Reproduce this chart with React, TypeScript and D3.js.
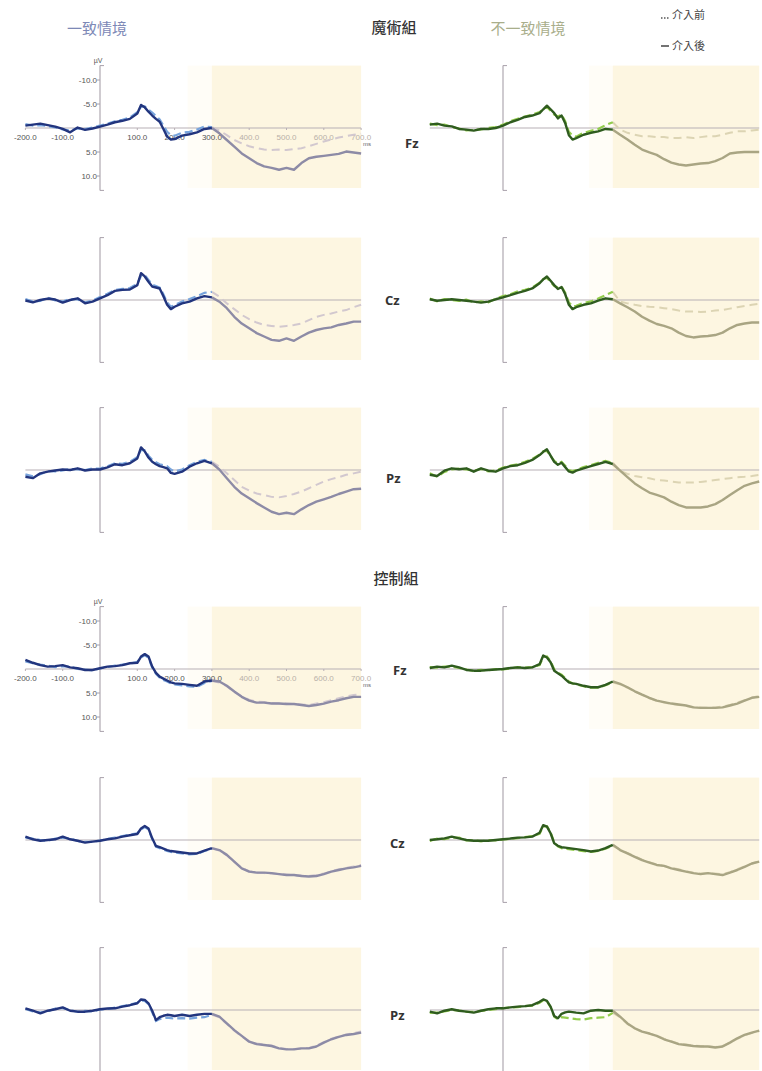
import React from "react";
import * as d3 from "d3";

// ---------- DATA ----------
const TIMES = [-200,-180,-160,-140,-120,-100,-80,-60,-40,-20,0,20,40,60,80,100,110,120,130,140,150,160,170,180,190,200,220,240,260,280,300,320,340,360,380,400,420,440,460,480,500,520,540,560,580,600,620,640,660,680,700];

const X_TICKS = [-200, -100, 100, 200, 300, 400, 500, 600, 700];
const Y_TICKS = [-10, -5, 5, 10];

// 魔術組 一致情境
const MAGIC_CONG_FZ_POST = [-0.5,-0.7,-0.9,-0.6,-0.3,0.2,0.9,-0.1,0.4,0.1,-0.3,-0.7,-1.2,-1.5,-1.9,-3.0,-4.8,-4.3,-3.4,-2.6,-1.9,-1.3,0.2,1.8,2.4,2.3,1.6,1.3,0.9,0.2,0.0,1.1,2.5,3.9,5.3,6.3,7.3,8.0,8.3,8.7,8.3,8.7,7.3,6.3,6.0,5.8,5.6,5.4,4.9,5.1,5.3];
const MAGIC_CONG_FZ_PRE = [-0.8,-0.5,-0.6,-0.4,-0.1,0.3,0.5,0.1,0.2,-0.1,-0.5,-0.9,-1.4,-1.7,-2.2,-3.3,-4.4,-4.5,-3.8,-3.2,-2.5,-1.8,-0.5,0.8,1.5,1.6,1.0,0.8,0.3,-0.3,-0.2,0.5,1.5,2.5,3.2,3.8,4.2,4.5,4.6,4.5,4.6,4.4,4.2,3.8,3.3,2.8,2.4,2.0,1.7,1.4,1.2];
const MAGIC_CONG_CZ_POST = [0.1,0.5,0,-0.3,-0.1,0.55,0,-0.35,0.7,0.35,-0.35,-1.0,-1.9,-2.1,-2.2,-3.1,-5.6,-4.9,-3.8,-2.8,-2.6,-2.4,-0.8,1.0,1.9,1.4,0.7,0.35,-0.35,-0.8,-0.55,0.35,1.7,3.5,4.9,5.9,6.9,7.6,8.3,8.5,8.0,8.5,7.6,6.8,6.25,5.9,5.7,5.2,4.9,4.5,4.5];
const MAGIC_CONG_CZ_PRE = [-0.2,0.3,0.2,-0.5,0.1,0.3,-0.2,-0.1,0.5,0.1,-0.6,-1.3,-2.1,-2.3,-2.5,-3.4,-5.0,-5.2,-4.2,-3.2,-2.9,-2.6,-1.2,0.5,1.4,1.1,0.3,-0.2,-0.8,-1.5,-1.7,-0.7,0.7,1.9,3.1,4.0,4.7,5.2,5.4,5.6,5.4,5.2,4.9,4.2,3.5,3.1,2.8,2.4,2.1,1.5,1.0];
const MAGIC_CONG_PZ_POST = [1.4,1.7,0.7,0.35,0.1,-0.1,0,-0.35,0.1,-0.1,-0.1,-0.55,-1.2,-1.0,-1.4,-2.4,-4.7,-3.9,-2.6,-1.7,-1.2,-0.8,-0.6,-0.35,0.6,0.8,0.35,-0.7,-1.4,-1.9,-1.4,-0.1,1.7,3.5,4.9,5.9,6.9,7.8,8.7,9.2,8.9,9.2,8.2,7.3,6.6,6.1,5.6,5.0,4.5,4.0,3.9];
const MAGIC_CONG_PZ_PRE = [0.9,1.3,0.9,0.2,0.3,0.1,-0.2,-0.1,0.0,-0.3,-0.3,-0.8,-1.4,-1.3,-1.7,-2.7,-4.2,-4.1,-3.0,-2.1,-1.6,-1.2,-1.0,-0.8,-0.1,0.3,-0.1,-1.0,-1.7,-2.1,-1.7,-0.7,0.7,2.1,3.5,4.3,4.9,5.2,5.6,5.7,5.4,5.0,4.5,3.8,3.1,2.4,1.9,1.5,1.0,0.7,0.35];

// 魔術組 不一致情境
const MAGIC_INC_FZ_POST = [-0.7,-0.9,-0.5,-0.35,0.2,0.35,0.55,0.2,0.2,0,-0.5,-1.2,-1.7,-2.3,-2.6,-3.1,-3.9,-4.65,-3.9,-3.1,-2.0,-2.6,-1.0,1.5,2.4,2.1,1.4,1.0,0.7,0.2,0.35,1.4,2.4,3.5,4.5,5.1,5.6,6.5,7.2,7.6,7.8,7.6,7.4,7.3,6.9,6.25,5.3,5.1,5.0,5.0,5.0];
const MAGIC_INC_FZ_PRE = [-0.9,-0.6,-0.7,-0.2,0.1,0.5,0.4,0.3,0.0,-0.2,-0.7,-1.4,-1.9,-2.4,-2.8,-3.3,-4.0,-4.4,-3.6,-2.8,-2.4,-2.8,-1.4,0.8,1.6,1.8,1.0,0.6,0.2,-0.6,-1.2,0.35,1.0,1.4,1.7,1.7,1.9,1.9,2.1,2.1,1.9,2.1,1.9,1.7,1.7,1.4,1.0,0.7,0.7,0.5,0.35];
const MAGIC_INC_CZ_POST = [-0.15,0.15,0,-0.15,0,0.15,0.35,0.55,0.35,-0.15,-0.55,-1.0,-1.5,-1.9,-2.4,-3.5,-4.3,-4.9,-4.0,-3.1,-2.3,-2.7,-1.2,1.0,1.9,1.5,1.0,0.7,0.15,-0.35,-0.15,0.7,1.5,2.4,3.5,4.3,5.0,5.4,5.9,6.8,7.5,7.8,7.6,7.5,7.3,6.8,5.9,5.2,4.9,4.7,4.7];
const MAGIC_INC_CZ_PRE = [-0.3,0.3,-0.2,0.0,0.2,-0.1,0.5,0.3,0.5,-0.3,-0.8,-1.2,-1.8,-2.1,-2.6,-3.6,-4.4,-4.6,-3.8,-2.9,-2.6,-2.8,-1.5,0.5,1.3,1.2,0.6,0.3,-0.3,-1.0,-1.7,0.35,0.7,1.0,1.25,1.4,1.5,1.7,1.9,2.2,2.4,2.4,2.5,2.4,2.2,2.1,1.8,1.5,1.25,1.0,0.8];
const MAGIC_INC_PZ_POST = [1.0,1.25,0.15,-0.35,-0.15,-0.35,0.35,-0.35,0.15,0.35,-0.35,-0.8,-1.0,-1.5,-2.1,-3.1,-3.8,-4.3,-3.0,-1.7,-1.1,-1.5,-0.6,0.3,0.55,0.15,-0.35,-0.8,-1.25,-1.7,-1.25,0.15,1.5,2.8,3.8,4.7,5.2,5.7,6.6,7.3,7.8,7.8,7.8,7.6,7.1,6.25,5.2,4.2,3.3,2.8,2.4];
const MAGIC_INC_PZ_PRE = [0.7,1.4,0.4,-0.1,-0.3,-0.1,0.1,-0.2,0.3,0.1,-0.5,-0.9,-1.2,-1.7,-2.3,-3.2,-3.9,-4.0,-2.9,-1.9,-1.4,-1.7,-0.9,0.0,0.2,0.0,-0.6,-1.0,-1.5,-1.9,-1.5,0.15,0.8,1.25,1.5,1.7,2.1,2.2,2.4,2.6,2.6,2.6,2.5,2.3,2.1,1.9,1.7,1.5,1.4,1.25,1.0];

// 控制組 一致情境
const CTRL_CONG_FZ_POST = [-1.9,-1.3,-0.8,-0.5,-0.6,-0.8,-0.35,-0.15,0.2,0.2,-0.15,-0.5,-0.6,-0.8,-1.2,-1.3,-2.6,-3.1,-2.6,-0.5,0.8,1.6,2.0,2.4,2.8,3.0,3.1,3.3,3.5,2.6,2.4,2.6,3.5,4.7,5.8,6.6,7.0,7.0,7.2,7.2,7.3,7.3,7.5,7.7,7.5,7.2,6.8,6.5,6.1,5.8,5.8];
const CTRL_CONG_FZ_PRE = [-1.6,-1.2,-0.9,-0.7,-0.4,-0.6,-0.5,0.0,0.1,0.3,-0.1,-0.4,-0.7,-0.9,-1.1,-1.5,-2.4,-2.9,-2.3,-0.3,1.0,1.8,2.3,2.6,3.0,3.2,3.4,3.6,3.7,2.9,2.5,2.8,3.6,4.8,5.7,6.4,6.8,6.9,7.1,7.2,7.2,7.3,7.4,7.5,7.2,6.9,6.5,6.1,5.7,5.4,5.3];
const CTRL_CONG_CZ_POST = [-0.7,-0.15,0.15,0,-0.15,-0.7,-0.15,0.15,0.55,0.35,0.15,-0.15,-0.35,-0.7,-1.0,-1.25,-2.4,-2.9,-2.4,-0.35,1.25,1.5,1.8,2.1,2.3,2.4,2.6,2.8,2.8,2.2,1.7,2.1,3.1,4.5,5.9,6.6,6.8,6.8,6.9,7.1,7.3,7.3,7.5,7.6,7.5,7.1,6.6,6.25,5.9,5.7,5.4];
const CTRL_CONG_CZ_PRE = [-0.5,-0.3,0.0,0.2,-0.3,-0.5,-0.3,0.2,0.4,0.4,0.1,-0.2,-0.5,-0.8,-1.1,-1.4,-2.2,-2.7,-2.2,-0.2,1.4,1.7,2.0,2.3,2.5,2.6,2.8,3.0,2.9,2.3,1.8,2.2,3.2,4.6,5.8,6.5,6.8,6.9,7.0,7.1,7.2,7.4,7.4,7.5,7.3,7.0,6.5,6.1,5.8,5.5,5.2];
const CTRL_CONG_PZ_POST = [-0.35,0.15,0.7,0.15,-0.15,-0.55,0.15,0.35,0.35,0.15,-0.15,-0.3,-0.35,-0.7,-1.0,-1.4,-2.2,-2.1,-1.4,0.15,2.1,1.5,1.2,1.0,1.1,1.25,1.0,1.25,1.0,0.8,0.8,1.4,2.8,4.2,5.4,6.6,7.1,7.3,7.5,8.0,8.2,8.2,8.0,8.0,7.6,6.8,6.1,5.6,5.2,5.0,4.7];
const CTRL_CONG_PZ_PRE = [-0.2,0.3,0.5,0.3,-0.3,-0.4,0.0,0.4,0.2,0.3,-0.1,-0.2,-0.5,-0.8,-1.1,-1.5,-2.0,-1.9,-1.2,0.5,2.3,1.9,1.7,1.6,1.7,1.8,1.7,1.8,1.6,1.5,1.0,1.5,2.9,4.3,5.5,6.5,7.0,7.2,7.4,7.9,8.1,8.1,8.0,7.9,7.4,6.7,6.0,5.5,5.1,4.8,4.5];

// 控制組 不一致情境
const CTRL_INC_FZ_POST = [-0.2,-0.5,-0.35,-0.7,-0.35,0.2,0.35,0.35,0.2,0.1,0,-0.2,-0.35,-0.2,-0.35,-1.0,-2.8,-2.4,-1.4,0.35,0.9,1.4,2.1,2.8,3.0,3.1,3.5,3.8,3.8,3.3,2.6,3.1,3.8,4.65,5.35,6.0,6.6,6.9,7.2,7.4,7.6,8.0,8.1,8.1,8.1,8.0,7.6,7.2,6.6,6.0,5.8];
const CTRL_INC_FZ_PRE = [-0.4,-0.3,-0.5,-0.5,-0.2,0.1,0.4,0.2,0.3,0.0,0.1,-0.1,-0.4,-0.3,-0.4,-0.8,-2.5,-2.6,-1.7,0.1,0.8,1.2,1.9,2.6,3.0,3.2,3.6,3.9,3.9,3.4,2.8,3.2,3.9,4.7,5.4,6.1,6.6,7.0,7.3,7.5,7.7,7.9,8.0,8.1,8.0,7.8,7.5,7.0,6.5,6.0,5.6];
const CTRL_INC_CZ_POST = [0,-0.15,-0.35,-0.7,-0.35,0,0.15,0.15,0.15,0,-0.15,-0.3,-0.5,-0.55,-0.7,-1.5,-3.1,-2.8,-1.4,0.7,1.2,1.5,1.6,1.7,1.8,1.9,2.1,2.4,2.2,1.7,1.0,2.1,2.8,3.5,4.2,4.7,5.2,5.4,5.9,6.25,6.6,6.9,7.1,6.9,7.1,7.3,6.8,6.25,5.6,4.9,4.5];
const CTRL_INC_CZ_PRE = [0.2,-0.3,-0.2,-0.5,-0.5,0.1,0.0,0.3,0.0,0.1,-0.1,-0.2,-0.4,-0.6,-0.8,-1.3,-2.8,-2.9,-1.6,0.5,1.3,1.7,1.8,1.9,2.0,2.1,2.3,2.5,2.3,1.8,1.2,2.0,2.7,3.4,4.1,4.6,5.1,5.4,5.8,6.1,6.5,6.8,7.0,6.9,7.0,7.1,6.7,6.1,5.5,4.9,4.4];
const CTRL_INC_PZ_POST = [0.35,0.7,0.15,-0.15,0.15,0.35,0.55,0.15,-0.15,-0.35,-0.35,-0.55,-0.7,-0.8,-1.0,-1.7,-2.2,-1.9,-0.7,1.25,1.7,0.8,0.5,0.35,0.45,0.55,0.7,0.15,0,0.15,0.15,1.4,2.8,3.8,4.5,4.9,5.4,6.1,6.6,7.1,7.3,7.5,7.6,7.6,7.8,7.6,6.8,5.9,5.2,4.7,4.3];
const CTRL_INC_PZ_PRE = [0.6,0.5,0.3,0.0,0.1,0.4,0.4,0.2,0.0,-0.2,-0.4,-0.5,-0.6,-0.8,-0.9,-1.5,-2.0,-1.8,-0.6,1.4,1.9,1.5,1.6,1.7,1.8,1.9,2.0,1.7,1.6,1.5,0.6,1.5,2.9,3.9,4.5,4.9,5.4,6.0,6.5,7.0,7.2,7.4,7.5,7.6,7.7,7.5,6.8,6.0,5.3,4.8,4.4];

// ---------- LAYOUT / STYLE ----------
const W = 762;
const H = 1071;
const ROW_ZERO = [128, 300, 470, 669, 840, 1010];
const COLS = [
  { x0: 100, k: 0.373, kind: "blue" },
  { x0: 503, k: 0.366, kind: "green" },
];
const PAL: any = {
  blue: { solidA: "#22357e", dashA: "#78a4dc", solidB: "#8d8ba6", dashB: "#d2c8cf" },
  green: { solidA: "#2f5c1f", dashA: "#92cc4c", solidB: "#a9a583", dashB: "#dcd4b3" },
};
const SERIES = [
  [MAGIC_CONG_FZ_PRE, MAGIC_CONG_FZ_POST, MAGIC_INC_FZ_PRE, MAGIC_INC_FZ_POST],
  [MAGIC_CONG_CZ_PRE, MAGIC_CONG_CZ_POST, MAGIC_INC_CZ_PRE, MAGIC_INC_CZ_POST],
  [MAGIC_CONG_PZ_PRE, MAGIC_CONG_PZ_POST, MAGIC_INC_PZ_PRE, MAGIC_INC_PZ_POST],
  [CTRL_CONG_FZ_PRE, CTRL_CONG_FZ_POST, CTRL_INC_FZ_PRE, CTRL_INC_FZ_POST],
  [CTRL_CONG_CZ_PRE, CTRL_CONG_CZ_POST, CTRL_INC_CZ_PRE, CTRL_INC_CZ_POST],
  [CTRL_CONG_PZ_PRE, CTRL_CONG_PZ_POST, CTRL_INC_PZ_PRE, CTRL_INC_PZ_POST],
];
const ELECTRODES = [
  { t: "Fz", x: 405, y: 143 },
  { t: "Cz", x: 385, y: 300 },
  { t: "Pz", x: 386, y: 478 },
  { t: "Fz", x: 393, y: 670 },
  { t: "Cz", x: 390, y: 843 },
  { t: "Pz", x: 390, y: 1015 },
];

const CJK = "'Noto Sans CJK TC', 'Noto Sans CJK SC', sans-serif";
const NUM = "'Liberation Sans', 'DejaVu Sans', sans-serif";

function Panel({ row, col }: { row: number; col: number }) {
  const c = COLS[col];
  const zero = ROW_ZERO[row];
  const x = d3.scaleLinear().domain([0, 700]).range([c.x0, c.x0 + 700 * c.k]);
  const y = d3.scaleLinear().domain([-13, 13]).range([zero - 62.4, zero + 62.4]);
  const pal = PAL[c.kind];
  const pre = SERIES[row][col * 2];
  const post = SERIES[row][col * 2 + 1];
  const pts = (arr: number[], a: number, b: number) =>
    TIMES.map((t, i) => [t, arr[i]] as [number, number]).filter((p) => p[0] >= a && p[0] <= b);
  const line = d3
    .line<[number, number]>()
    .x((d) => x(d[0]))
    .y((d) => y(d[1]));
  const labeled = col === 0 && (row === 0 || row === 3);
  const xl = x(-200);
  const xr = x(700);
  return (
    <g>
      <rect x={x(235)} y={y(-13)} width={x(300) - x(235)} height={y(12.5) - y(-13)} fill="#fffdf7" />
      <rect x={x(300)} y={y(-13)} width={xr - x(300)} height={y(12.5) - y(-13)} fill="#fdf6e1" />
      <line x1={xl} x2={xr} y1={y(0)} y2={y(0)} stroke="#b8b0b6" strokeWidth={1.2} />
      <line x1={x(0)} x2={x(0)} y1={y(-13)} y2={y(13)} stroke="#a8a0aa" strokeWidth={1.1} />
      <line x1={x(0)} x2={x(0) + 4} y1={y(-13)} y2={y(-13)} stroke="#a8a0aa" strokeWidth={1} />
      <line x1={x(0)} x2={x(0) + 4} y1={y(13)} y2={y(13)} stroke="#a8a0aa" strokeWidth={1} />
      {labeled && (
        <g>
          {Y_TICKS.map((v) => (
            <g key={v}>
              <line x1={x(0) - 3} x2={x(0)} y1={y(v)} y2={y(v)} stroke="#a8a0aa" />
              <text x={x(0) - 3} y={y(v) + 3} fontSize={8} textAnchor="end" fill="#555" fontFamily={NUM}>
                {v.toFixed(1)}
              </text>
            </g>
          ))}
          <text x={x(0) - 2} y={y(-13) - 3} fontSize={7} textAnchor="middle" fill="#555" fontFamily={NUM}>
            µV
          </text>
          {X_TICKS.map((t) => (
            <g key={t}>
              <line x1={x(t)} x2={x(t)} y1={y(0)} y2={y(0) + 2} stroke="#b8b0b6" />
              <text
                x={x(t)}
                y={y(0) + 12}
                fontSize={8}
                textAnchor="middle"
                fill={t >= 400 ? "#b8b0a8" : "#555"}
                fontFamily={NUM}
              >
                {t.toFixed(1)}
              </text>
            </g>
          ))}
          <text x={xr + 6} y={y(0) + 18} fontSize={6} textAnchor="middle" fill="#666" fontFamily={NUM}>
            ms
          </text>
        </g>
      )}
      <path d={line(pts(pre, 300, 700)) || ""} fill="none" stroke={pal.dashB} strokeWidth={2} strokeDasharray="8 5" />
      <path d={line(pts(pre, -200, 300)) || ""} fill="none" stroke={pal.dashA} strokeWidth={2.2} strokeDasharray="8 4" />
      <path d={line(pts(post, 300, 700)) || ""} fill="none" stroke={pal.solidB} strokeWidth={2.4} strokeLinejoin="round" />
      <path d={line(pts(post, -200, 300)) || ""} fill="none" stroke={pal.solidA} strokeWidth={2.4} strokeLinejoin="round" />
    </g>
  );
}

export default function App() {
  return (
    <div style={{ position: "absolute", left: 0, top: 0, width: W, height: H, background: "#fff" }}>
      <svg width={W} height={H} viewBox={`0 0 ${W} ${H}`}>
        <rect width={W} height={H} fill="#fff" />
        {ROW_ZERO.map((_, r) => (
          <g key={r}>
            <Panel row={r} col={0} />
            <Panel row={r} col={1} />
          </g>
        ))}
        <text x={97} y={34} fontSize={15} textAnchor="middle" fill="#7d88b6" fontFamily={CJK}>一致情境</text>
        <text x={394} y={33} fontSize={15} textAnchor="middle" fill="#333" fontFamily={CJK} fontWeight={500}>魔術組</text>
        <text x={528} y={34} fontSize={15} textAnchor="middle" fill="#a9ae8b" fontFamily={CJK}>不一致情境</text>
        <text x={396} y={584} fontSize={15} textAnchor="middle" fill="#333" fontFamily={CJK} fontWeight={500}>控制組</text>
        <line x1={661} x2={669} y1={18} y2={18} stroke="#555" strokeWidth={1.3} strokeDasharray="1.5 1.5" />
        <text x={672} y={19} fontSize={11} fill="#444" fontFamily={CJK}>介入前</text>
        <line x1={661} x2={669} y1={46} y2={46} stroke="#444" strokeWidth={1.5} />
        <text x={672} y={50} fontSize={11} fill="#444" fontFamily={CJK}>介入後</text>
        {ELECTRODES.map((e, i) => (
          <text key={i} x={e.x} y={e.y + 5} fontSize={13} fontWeight="bold" fill="#333" fontFamily="'Open Sans', 'Liberation Sans', sans-serif">
            {e.t}
          </text>
        ))}
      </svg>
    </div>
  );
}
